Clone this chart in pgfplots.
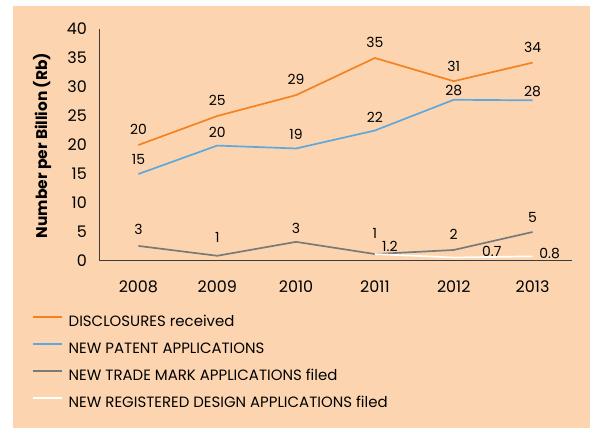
\documentclass[border=0pt]{standalone}
\usepackage{pgfplots}
\usepackage{pgfplotstable}
\pgfplotsset{compat=1.18}
\usepackage{fontspec}
\setmainfont{Poppins}
\definecolor{peach}{RGB}{252,213,176}
\definecolor{corange}{RGB}{245,130,32}
\definecolor{cblue}{RGB}{93,168,222}
\definecolor{cgray}{RGB}{122,122,122}
\definecolor{axgray}{RGB}{60,60,60}

\pgfplotstableread{
x y lab dx dy
0 20 20 0 16
1 25 25 0 16
2 28.6 29 0 16
3 35 35 0 16
4 31 31 0 15
5 34.2 34 0 15
}\disc
\pgfplotstableread{
x y lab dx dy
0 15 15 0 15
1 19.9 20 0 13
2 19.4 19 0 14
3 22.5 22 0 13
4 27.8 28 0 9
5 27.7 28 0 9
}\pat
\pgfplotstableread{
x y lab dx dy
0 2.6 3 0 17
1 0.9 1 0 18
2 3.3 3 0 13
3 1.2 1 0 21
4 1.9 2 0 16
5 5.0 5 0 15
}\tm
\pgfplotstableread{
x y lab dx dy
3 1.2 1.2 15 8
4 0.6 0.7 38 6
5 0.8 0.8 17 3
}\des

\pgfplotsset{lbl/.style={
  point meta=explicit symbolic,
  visualization depends on={\thisrow{dx} \as \dx},
  visualization depends on={\thisrow{dy} \as \dy},
  nodes near coords,
  nodes near coords style={anchor=center, inner sep=0pt, xshift=\dx bp, yshift=\dy bp, font=\fontsize{14}{16}\selectfont, text=black},
}}

\begin{document}
\begin{tikzpicture}
\fill[white] (0bp,0bp) rectangle (590bp,428bp);
\fill[peach] (13bp,0bp) rectangle (590bp,422bp);
\begin{axis}[
  at={(99bp,167bp)}, anchor=south west,
  scale only axis, width=473bp, height=232bp,
  xmin=-0.5, xmax=5.5, ymin=0, ymax=40,
  axis x line*=bottom, axis y line*=left,
  axis line style={axgray, line width=1bp, -},
  xtick={0,...,5}, xticklabels={2008,2009,2010,2011,2012,2013},
  ytick={0,5,...,40},
  major tick length=0pt,
  /pgf/number format/assume math mode=true,
  tick label style={font=\fontsize{16}{18}\selectfont, text=black},
  xticklabel style={anchor=center, inner sep=0pt, yshift=-26bp},
  yticklabel style={anchor=east, inner sep=0pt, xshift=-12bp},
  ylabel={Number per Billion (Rb)},
  ylabel style={at={(axis description cs:-0.1205,0.498)}, anchor=center, font=\fontsize{15.5}{18}\selectfont\bfseries},
  legend style={at={(axis description cs:-0.1416,-0.2328)}, anchor=north west, draw=none, fill=none,
    inner sep=0pt, outer sep=0pt, row sep=13bp, column sep=6bp,
    nodes={inner sep=0pt, text height=11bp, text depth=3bp},
    font=\fontsize{15}{17}\selectfont},
  legend cell align=left,
  legend image code/.code={\draw[#1] (0bp,5bp) -- (29bp,5bp);},
  clip=false,
]
\addplot[corange, line width=1.7bp, lbl] table[x=x, y=y, meta=lab] {\disc};
\addlegendentry{DISCLOSURES received}
\addplot[cblue, line width=1.7bp, lbl] table[x=x, y=y, meta=lab] {\pat};
\addlegendentry{NEW PATENT APPLICATIONS}
\addplot[cgray, line width=1.7bp, lbl] table[x=x, y=y, meta=lab] {\tm};
\addlegendentry{NEW TRADE MARK APPLICATIONS filed}
\addplot[white, line width=1.7bp, lbl] table[x=x, y=y, meta=lab] {\des};
\addlegendentry{NEW REGISTERED DESIGN APPLICATIONS filed}
\end{axis}
\end{tikzpicture}
\end{document}
